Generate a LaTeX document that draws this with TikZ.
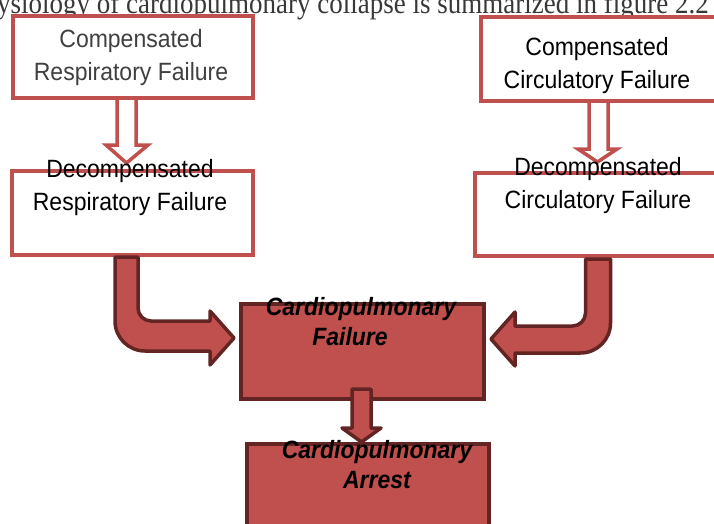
\documentclass[tikz,border=0pt]{standalone}
\usepackage{fontspec}
\setmainfont[FakeStretch=0.92]{Liberation Sans}
\newfontfamily\captionfont[FakeStretch=0.9]{Liberation Serif}
\definecolor{boxred}{HTML}{C0504D}
\definecolor{darkred}{HTML}{632523}
\tikzset{
  openbox/.style={draw=boxred, line width=4pt, fill=white, rectangle, inner sep=0pt},
  fullbox/.style={draw=darkred, line width=3.5pt, fill=boxred, rectangle, inner sep=0pt},
  openarrow/.style={draw=boxred, line width=3.5pt, fill=white, line join=miter},
  fullarrow/.style={draw=darkred, line width=3.5pt, fill=boxred, line join=round},
  boxtext/.style={align=center, font=\fontsize{25}{33}\selectfont, inner sep=0pt},
  boldtext/.style={align=center, font=\fontsize{25}{30}\selectfont\bfseries\itshape, inner sep=0pt}
}
\begin{document}
\begin{tikzpicture}[x=1pt, y=-1pt]
    \clip (0,0) rectangle (714,523);
    \node[anchor=base west, inner sep=0pt, text=black!78, font=\fontsize{30}{30}\selectfont\captionfont] (intro) at (-3,13) {ysiology of cardiopulmonary collapse is summarized in figure 2.2};
    % boxes
    \node[openbox, minimum width=240pt, minimum height=82pt] (crf) at (133,57) {};
    \node[openbox, minimum width=239pt, minimum height=84pt] (ccf) at (600.5,59) {};
    \node[openbox, minimum width=241pt, minimum height=84pt] (drf) at (132.5,213) {};
    \node[openbox, minimum width=245pt, minimum height=83pt] (dcf) at (597.5,214.5) {};
    \node[fullbox, minimum width=243pt, minimum height=95pt] (cpf) at (362.5,351.5) {};
    \node[fullbox, minimum width=242pt, minimum height=96pt] (cpa) at (368,492) {};
    % hollow arrows
    \draw[openarrow] (117,98) -- (136,98) -- (136,145) -- (148,145) -- (126.5,163) -- (106,145) -- (117,145) -- cycle;
    \draw[openarrow] (589,101) -- (608,101) -- (608,149) -- (617,149) -- (597.5,162) -- (578,149) -- (589,149) -- cycle;
    % bent arrows
    \draw[fullarrow] (115,257) -- (138,257) -- (138,308) arc (180:90:13) -- (210,321) -- (210,311)
        -- (234,338) -- (210,365) -- (210,351) -- (145,351) arc (90:180:30) -- cycle;
    \draw[fullarrow] (610.5,259) -- (585.5,259) -- (585.5,313) arc (0:90:13) -- (515,326) -- (515,312)
        -- (491,339) -- (515,366) -- (515,353) -- (580.5,353) arc (90:0:30) -- cycle;
    \draw[fullarrow] (352,389) -- (371,389) -- (371,428) -- (381,428) -- (361.5,442) -- (342,428) -- (352,428) -- cycle;
    % labels
    \node[boxtext, text=black!75] (crftext) at (131,58) {Compensated\\Respiratory Failure};
    \node[boxtext] (ccftext) at (597,65.5) {Compensated\\Circulatory Failure};
    \node[boxtext] (drftext) at (130,188) {Decompensated\\Respiratory Failure};
    \node[boxtext] (dcftext) at (598,186) {Decompensated\\Circulatory Failure};
    \node[boldtext] (cpftext) at (361,321.5) {Cardiopulmonary\\Failure\hspace*{22pt}};
    \node[boldtext] (cpatext) at (377,465) {Cardiopulmonary\\Arrest};
\end{tikzpicture}
\end{document}
